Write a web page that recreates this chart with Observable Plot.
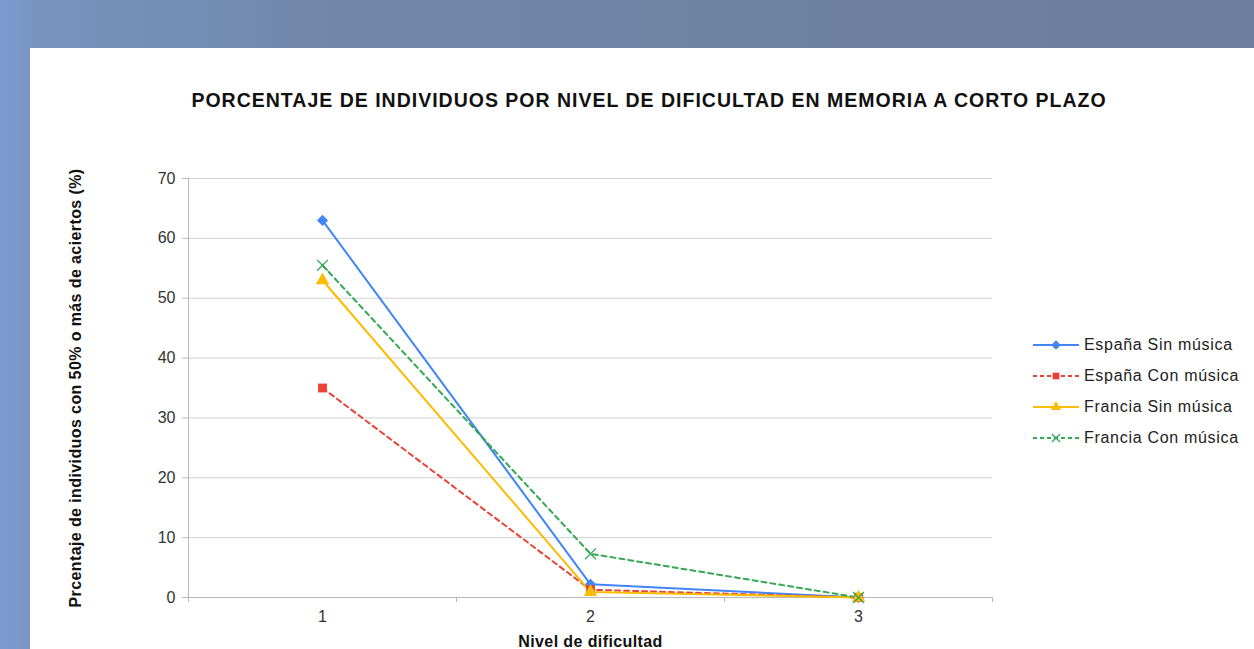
<!DOCTYPE html>
<html>
<head>
<meta charset="utf-8">
<script src="https://cdn.jsdelivr.net/npm/d3@7"></script>
<script src="https://cdn.jsdelivr.net/npm/@observablehq/plot@0.6"></script>
<style>
  html, body { margin: 0; padding: 0; width: 1254px; height: 649px; overflow: hidden; }
  body {
    position: relative;
    font-family: "Liberation Sans", Arial, sans-serif;
    background: linear-gradient(90deg, #7b9bcf 0%, #7893c0 3%, #7188aa 25%, #6e82a1 60%, #6c7f9d 100%);
  }
  #panel { position: absolute; left: 30px; top: 48px; right: 0; bottom: 0; background: #fff; }
  #title { position: absolute; left: 0; width: 1298px; top: 89px; text-align: center;
           font-weight: bold; font-size: 19.5px; color: #111; letter-spacing: 1px; }
  #chart { position: absolute; left: 0; top: 130px; }
  #legend { position: absolute; left: 1033px; top: 329px; font-size: 16px; color: #222; letter-spacing: 0.7px; }
  .item { height: 31px; display: flex; align-items: center; }
  .item svg { margin-right: 5px; }
</style>
</head>
<body>
<div id="panel"></div>
<div id="title"></div>
<div id="chart"></div>
<div id="legend"></div>
<script>
// ---- data ----
const titleText = "PORCENTAJE DE INDIVIDUOS POR NIVEL DE DIFICULTAD EN MEMORIA A CORTO PLAZO";
const yLabel = "Prcentaje de individuos con 50% o más de aciertos (%)";
const xLabel = "Nivel de dificultad";
const levels = [1, 2, 3];
const levelBounds = [0.5, 1.5, 2.5, 3.5];
const yTicks = [0, 10, 20, 30, 40, 50, 60, 70];
const seriesNames = ["España Sin música", "España Con música", "Francia Sin música", "Francia Con música"];
const espanaSin = [63, 2.2, 0];
const espanaCon = [35, 1.3, 0];
const franciaSin = [53, 0.9, 0];
const franciaCon = [55.5, 7.3, 0];

// ---- styles ----
const seriesValues = [espanaSin, espanaCon, franciaSin, franciaCon];
const colors = ["#4285f4", "#ea4335", "#fbbc04", "#34a853"];
const dashes = [null, "5,4", null, "5,4"];
const symbols = ["diamond2", "square", "triangle", "times"];

document.getElementById("title").textContent = titleText;

const rows = seriesNames.flatMap((s, i) =>
  levels.map((l, j) => ({ series: s, level: l, value: seriesValues[i][j] })));

const marks = [
  Plot.gridY(yTicks, { stroke: "#d2d2d2", strokeOpacity: 1 }),
  Plot.frame({ anchor: "left", stroke: "#b8b8b8" }),
  Plot.frame({ anchor: "bottom", stroke: "#b8b8b8" }),
  Plot.axisY({ ticks: yTicks, tickSize: 6, tickPadding: 7, stroke: "#b8b8b8",
               fontSize: 16, fill: "#333",
               label: yLabel, labelAnchor: "center", labelOffset: 119, labelArrow: "none" }),
  Plot.axisX({ ticks: levelBounds, tickFormat: () => "", tickSize: 5, stroke: "#b8b8b8", label: null }),
  Plot.axisX({ ticks: levels, tickFormat: d3.format("d"), tickSize: 0, tickPadding: 13, fontSize: 16, fill: "#333",
               label: xLabel, labelAnchor: "center", labelOffset: 49, labelArrow: "none" })
];
seriesNames.forEach((s, i) => {
  const d = rows.filter(r => r.series === s);
  marks.push(Plot.line(d, { x: "level", y: "value", stroke: colors[i], strokeWidth: 2,
                            strokeDasharray: dashes[i] || undefined }));
});
seriesNames.forEach((s, i) => {
  const d = rows.filter(r => r.series === s);
  marks.push(Plot.dot(d, { x: "level", y: "value", symbol: symbols[i], r: 5,
    fill: symbols[i] === "times" ? "none" : colors[i],
    stroke: symbols[i] === "times" ? colors[i] : "none", strokeWidth: 1.3 }));
});

const plot = Plot.plot({
  width: 1100, height: 540,
  marginLeft: 188, marginRight: 108, marginTop: 48, marginBottom: 73,
  style: { background: "transparent", fontFamily: "Liberation Sans, Arial, sans-serif", overflow: "visible" },
  x: { type: "linear", domain: [0.5, 3.5] },
  y: { domain: [0, 70] },
  marks
});
plot.querySelectorAll('[aria-label="y-axis label"], [aria-label="x-axis label"]').forEach(g => {
  g.setAttribute("font-weight", "bold");
  g.setAttribute("font-size", "16");
  g.setAttribute("fill", "#111");
  g.setAttribute("letter-spacing", "0.4");
});
document.getElementById("chart").appendChild(plot);

// legend
const legend = document.getElementById("legend");
const typeMap = { diamond2: d3.symbolSquare, square: d3.symbolSquare, triangle: d3.symbolTriangle, times: d3.symbolTimes };
seriesNames.forEach((s, i) => {
  const item = document.createElement("div");
  item.className = "item";
  const sw = d3.create("svg").attr("width", 46).attr("height", 14);
  sw.append("line").attr("x1", 0).attr("x2", 46).attr("y1", 7).attr("y2", 7)
    .attr("stroke", colors[i]).attr("stroke-width", 2)
    .attr("stroke-dasharray", dashes[i] ? "4,3" : null);
  const sym = d3.symbol(typeMap[symbols[i]], 45);
  sw.append("path").attr("d", sym())
    .attr("transform", "translate(23,7)" + (symbols[i] === "diamond2" ? " rotate(45)" : ""))
    .attr("fill", symbols[i] === "times" ? "none" : colors[i])
    .attr("stroke", symbols[i] === "times" ? colors[i] : "none").attr("stroke-width", 1.3);
  item.appendChild(sw.node());
  const t = document.createElement("span");
  t.textContent = s;
  item.appendChild(t);
  legend.appendChild(item);
});
</script>
</body>
</html>
